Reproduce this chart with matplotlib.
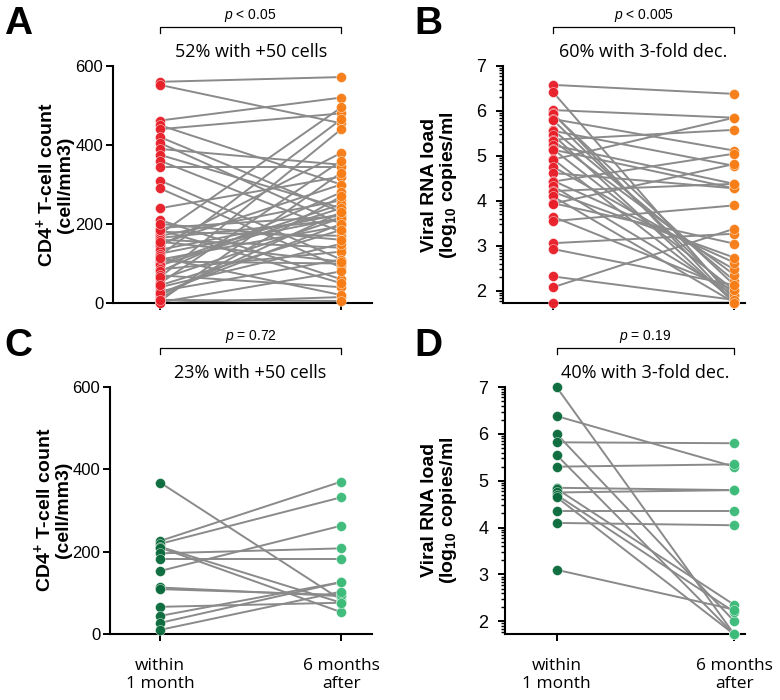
import numpy as np
import matplotlib
matplotlib.use("Agg")
import matplotlib.pyplot as plt
import matplotlib.transforms as mtransforms

plt.rcParams['font.family'] = ['Liberation Sans', 'DejaVu Sans']
plt.rcParams['mathtext.fontset'] = 'custom'
plt.rcParams['mathtext.rm'] = 'Liberation Sans:bold'
plt.rcParams['mathtext.bf'] = 'Liberation Sans:bold'
plt.rcParams['mathtext.it'] = 'Liberation Sans:italic'

# panel A: CD4 count, (within 1 month, 6 months after)
cd4_a_pre = [560, 552, 462, 450, 440, 420, 405, 390, 375, 360, 345, 310, 290, 240, 210,
             190, 180, 175, 170, 165, 160, 150, 145, 135, 125, 120, 110, 105, 100, 95,
             85, 80, 70, 60, 50, 40, 30, 20, 12, 5, 2, 0, 115, 155, 185, 25, 65, 45, 200, 8]
cd4_a_post = [572, 455, 520, 300, 480, 230, 200, 350, 240, 180, 345, 110, 90, 320, 60,
              220, 170, 495, 260, 210, 140, 300, 380, 225, 215, 465, 195, 100, 250, 240,
              130, 280, 40, 215, 360, 150, 110, 230, 270, 330, 80, 15, 20, 105, 50, 200,
              440, 185, 160, 5]

# panel B: viral load log10
vl_b_pre = [6.58, 6.42, 6.02, 5.95, 5.93, 5.82, 5.80, 5.58, 5.56, 5.47, 5.36, 5.34, 5.24,
            5.15, 5.14, 4.93, 4.92, 4.76, 4.62, 4.45, 4.43, 4.33, 4.22, 4.20, 4.10, 3.95,
            3.94, 3.65, 3.55, 3.06, 2.93, 2.32, 2.08, 1.72]
vl_b_post = [6.38, 1.80, 5.85, 1.74, 2.13, 5.12, 1.91, 2.23, 4.78, 1.74, 5.58, 2.36, 4.38,
             2.02, 4.28, 1.80, 5.85, 2.48, 4.28, 2.63, 5.05, 1.91, 4.38, 2.74, 1.74, 3.05,
             4.82, 2.02, 3.90, 3.27, 2.13, 1.80, 3.38, 1.74]

# panel C: CD4 count, second group
cd4_c_pre = [368, 226, 219, 212, 210, 196, 182, 153, 113, 109, 66, 44, 27, 10]
cd4_c_post = [83, 370, 332, 76, 53, 208, 182, 263, 92, 95, 76, 126, 126, 103]

# panel D: viral load, second group
vl_d_pre = [7.0, 6.38, 6.0, 5.82, 5.55, 5.3, 4.85, 4.83, 4.75, 4.7, 4.65, 4.35, 4.1, 3.1]
vl_d_post = [1.72, 5.3, 2.0, 5.8, 1.72, 5.35, 4.8, 2.35, 4.8, 2.2, 1.72, 4.35, 4.05, 2.25]

groups = ['within\n1 month', '6 months\nafter']

GRAY = '#8a8a8a'
RED = '#e8202a'
ORANGE = '#f77d16'
DKGREEN = '#0b6b3c'
LTGREEN = '#3dbb79'

fig = plt.figure(figsize=(7.8, 7.0), dpi=100)


def px_axes(left, right, top, bottom):
    return fig.add_axes([left / 780, 1 - bottom / 700, (right - left) / 780, (bottom - top) / 700])


def draw_panel(ax, pre, post, c1, c2, xl, yl):
    for a, b in zip(pre, post):
        ax.plot([0, 1], [a, b], color=GRAY, lw=1.4, zorder=1, solid_capstyle='round')
    ax.plot(np.zeros(len(pre)), pre, 'o', ms=7.2, color=c1, mec='#ffffff', mew=0.3,
            zorder=3, clip_on=False, alpha=0.97)
    ax.plot(np.ones(len(post)), post, 'o', ms=7.2, color=c2, mec='#ffffff', mew=0.3,
            zorder=3, clip_on=False, alpha=0.97)
    ax.set_xlim(*xl)
    ax.set_ylim(*yl)
    for s in ['top', 'right']:
        ax.spines[s].set_visible(False)
    for s in ['left', 'bottom']:
        ax.spines[s].set_linewidth(1.5)
    ax.set_xticks([0, 1])
    ax.tick_params(axis='both', which='major', direction='out', length=5, width=1.4, pad=2)


def bracket(ax, ptxt, pct, ybr, yp, ypct):
    tr = mtransforms.blended_transform_factory(ax.transData, ax.transAxes)
    ax.plot([0, 0, 1, 1], [ybr - 0.025, ybr, ybr, ybr - 0.025], color='black', lw=0.9,
            transform=tr, clip_on=False)
    ax.text(0.5, yp, ptxt, transform=tr, ha='center', va='center', fontsize=10)
    ax.text(0.5, ypct, pct, transform=tr, ha='center', va='center', fontsize=13,
            family=['Open Sans', 'DejaVu Sans'])


def log_minor(ax, lo, hi):
    ticks = []
    for n in range(1, 8):
        for k in range(2, 10):
            v = n + np.log10(k)
            if lo <= v <= hi:
                ticks.append(v)
    ax.set_yticks(ticks, minor=True)
    ax.tick_params(axis='y', which='minor', direction='out', length=2.6, width=1.0)


# A
axA = px_axes(113, 372, 66, 303)
draw_panel(axA, cd4_a_pre, cd4_a_post, RED, ORANGE, (-0.26, 1.17), (0, 600))
axA.set_yticks([0, 200, 400, 600])
axA.set_xticklabels([])
axA.tick_params(axis='y', labelsize=12)
bracket(axA, '$p$ < 0.05', '52% with +50 cells', 1.165, 1.213, 1.06)

# B
axB = px_axes(503, 745, 66, 303)
draw_panel(axB, vl_b_pre, vl_b_post, RED, ORANGE, (-0.276, 1.06), (1.73, 7))
axB.set_yticks([2, 3, 4, 5, 6, 7])
log_minor(axB, 1.73, 7)
axB.set_xticklabels([])
axB.tick_params(axis='y', which='major', labelsize=13, pad=7)
bracket(axB, '$p$ < 0.005', '60% with 3-fold dec.', 1.165, 1.213, 1.06)

# C
axC = px_axes(110, 372, 387, 634)
draw_panel(axC, cd4_c_pre, cd4_c_post, DKGREEN, LTGREEN, (-0.276, 1.17), (0, 600))
axC.set_yticks([0, 200, 400, 600])
axC.set_xticklabels(groups, fontsize=12.5, family=['Open Sans', 'DejaVu Sans'],
                    linespacing=1.2)
axC.tick_params(axis='x', pad=12)
axC.tick_params(axis='y', labelsize=12)
bracket(axC, '$p$ = 0.72', '23% with +50 cells', 1.158, 1.205, 1.057)

# D
axD = px_axes(505, 745, 387, 634)
draw_panel(axD, vl_d_pre, vl_d_post, DKGREEN, LTGREEN, (-0.29, 1.06), (1.73, 7))
axD.set_yticks([2, 3, 4, 5, 6, 7])
log_minor(axD, 1.73, 7)
axD.set_xticklabels(groups, fontsize=12.5, family=['Open Sans', 'DejaVu Sans'],
                    linespacing=1.2)
axD.tick_params(axis='x', pad=12)
axD.tick_params(axis='y', which='major', labelsize=13, pad=7)
bracket(axD, '$p$ = 0.19', '40% with 3-fold dec.', 1.158, 1.205, 1.057)

# y labels
cd4_lab = 'CD4$^{+}$ T-cell count\n(cell/mm3)'
vl_lab = 'Viral RNA load\n(log$_{10}$ copies/ml'
for xpx, ypx, lab in [(54, 185, cd4_lab), (440, 185, vl_lab),
                      (52, 510, cd4_lab), (440, 510, vl_lab)]:
    fig.text(xpx / 780, 1 - ypx / 700, lab, rotation=90, ha='center', va='center',
             fontsize=14, fontweight='bold', linespacing=1.05, multialignment='center')

# panel letters
for xpx, ypx, letter in [(18, 24, 'A'), (428, 24, 'B'), (18, 346, 'C'), (428, 346, 'D')]:
    fig.text(xpx / 780, 1 - ypx / 700, letter, ha='center', va='center',
             fontsize=28, fontweight='bold')

fig.savefig('out.png', dpi=100)
